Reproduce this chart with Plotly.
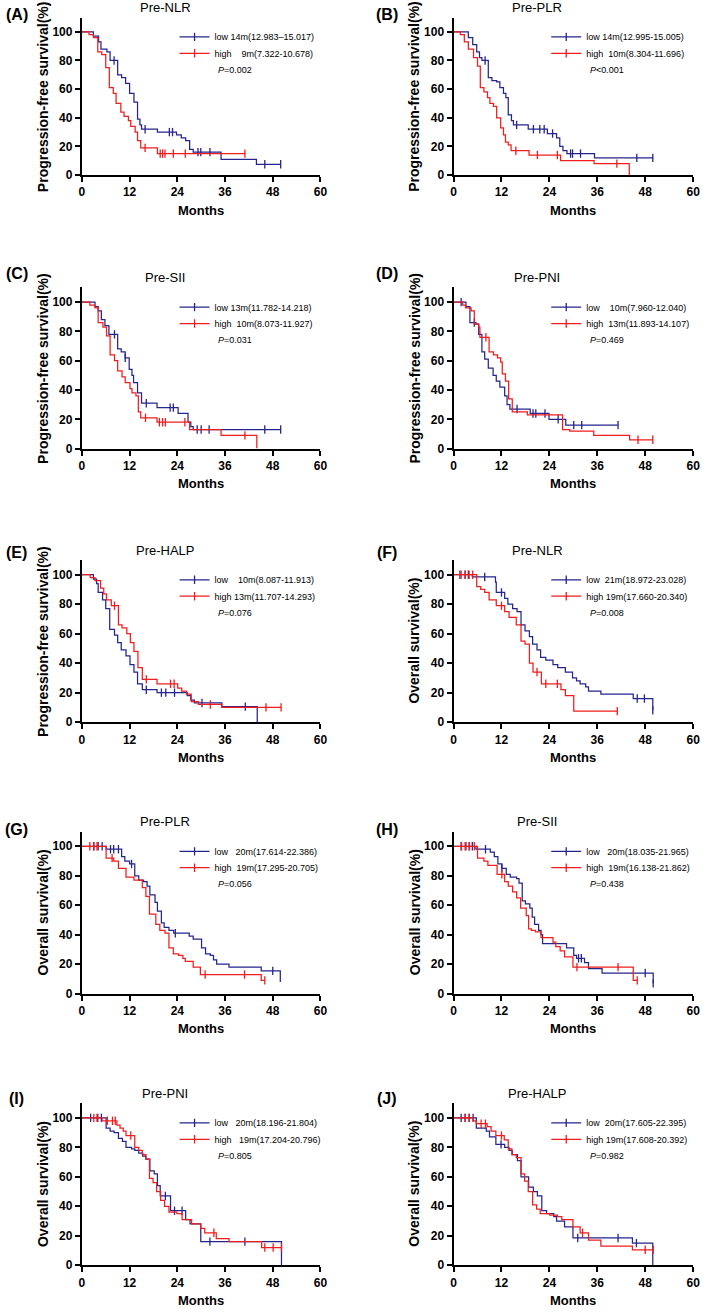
import plotly.graph_objects as go

W, H = 709, 1314
FONT = "Liberation Sans, Arial, sans-serif"
BLUE = "#25258E"
RED = "#F21C1C"

letters = ["(A)", "(B)", "(C)", "(D)", "(E)", "(F)", "(G)", "(H)", "(I)", "(J)"]
titles = ["Pre-NLR", "Pre-PLR", "Pre-SII", "Pre-PNI", "Pre-HALP",
          "Pre-NLR", "Pre-PLR", "Pre-SII", "Pre-PNI", "Pre-HALP"]
y_titles = ["Progression-free survival(%)"] * 5 + ["Overall survival(%)"] * 5
x_title = "Months"
NB = "\u00a0"
low_labels = [
    "low 14m(12.983–15.017)", "low 14m(12.995-15.005)", "low 13m(11.782-14.218)",
    "low" + NB * 4 + "10m(7.960-12.040)", "low" + NB * 4 + "10m(8.087-11.913)",
    "low" + NB * 2 + "21m(18.972-23.028)", "low" + NB * 3 + "20m(17.614-22.386)",
    "low" + NB * 3 + "20m(18.035-21.965)", "low" + NB * 3 + "20m(18.196-21.804)",
    "low" + NB * 2 + "20m(17.605-22.395)"]
high_labels = [
    "high" + NB * 4 + "9m(7.322-10.678)", "high" + NB * 2 + "10m(8.304-11.696)",
    "high" + NB * 2 + "10m(8.073-11.927)", "high" + NB * 2 + "13m(11.893-14.107)",
    "high 13m(11.707-14.293)", "high 19m(17.660-20.340)",
    "high" + NB * 2 + "19m(17.295-20.705)", "high" + NB * 2 + "19m(16.138-21.862)",
    "high" + NB * 3 + "19m(17.204-20.796)", "high 19m(17.608-20.392)"]
p_labels = ["=0.002", "<0.001", "=0.031", "=0.469", "=0.076",
            "=0.008", "=0.056", "=0.438", "=0.805", "=0.982"]
x_ticks = [0, 12, 24, 36, 48, 60]
y_ticks = [0, 20, 40, 60, 80, 100]

# ---- Kaplan-Meier step data (drop times, survival after drop, censor times, end) ----
A_low_t = [2.9, 4.2, 4.8, 6.3, 7.1, 9.0, 10.0, 11.0, 12.0, 13.1, 14.0, 14.6, 15.0, 19.0, 23.8, 25.0, 26.1, 27.1, 28.0, 35.0, 43.9]
A_low_s = [97, 93, 88, 86, 80, 70, 68, 64, 57, 51, 39, 35, 32, 30, 28, 26, 24, 18, 16, 11, 7.5]
A_low_c = [8.1, 15.9, 22.0, 22.8, 29.2, 29.9, 32.2, 46.0, 50.0]
A_low_end = 50
A_high_t = [1.8, 2.9, 4.0, 5.0, 6.0, 6.9, 7.9, 8.6, 9.8, 10.6, 11.7, 12.3, 13.4, 14.0, 14.8, 19.0]
A_high_s = [98, 96, 86, 84, 75, 61, 57, 50, 44, 41, 38, 34, 30, 24, 19, 15]
A_high_c = [15.9, 19.7, 20.3, 20.9, 23.0, 26.0, 41.0]
A_high_end = 41

B_low_t = [3.7, 4.8, 5.8, 6.5, 7.1, 8.7, 9.6, 10.8, 11.6, 12.5, 13.1, 13.7, 14.5, 15.0, 18.7, 23.5, 25.8, 26.6, 27.4, 28.4, 35.3]
B_low_s = [96, 91, 86, 82, 80, 68, 66, 65, 61, 57, 54, 42, 38, 35, 32, 29, 26, 20, 17, 15, 12]
B_low_c = [7.9, 15.8, 20.0, 21.6, 22.7, 24.8, 29.3, 29.8, 31.8, 45.9, 49.9]
B_low_end = 50
B_high_t = [1.7, 2.7, 3.7, 5.0, 6.0, 6.7, 7.6, 8.5, 9.1, 10.0, 10.8, 11.8, 12.5, 13.0, 13.7, 14.4, 18.9, 26.8, 35.2, 44.0]
B_high_s = [98, 93, 88, 82, 76, 61, 58, 54, 50, 48, 40, 33, 28, 23, 21, 17, 14, 10, 8, 0]
B_high_c = [15.6, 21.0, 26.0, 40.9]
B_high_end = 44

C_low_t = [3.3, 4.1, 4.9, 5.8, 6.8, 9.0, 9.9, 10.9, 11.9, 12.6, 13.0, 14.0, 15.0, 18.9, 24.2, 26.7, 27.4, 28.0]
C_low_s = [97, 94, 88, 84, 78, 68, 66, 62, 54, 50, 45, 38, 31, 28, 24, 18, 15, 13]
C_low_c = [8.2, 10.9, 16.2, 22.2, 23.0, 29.0, 30.0, 32.0, 46.0, 50.0]
C_low_end = 50
C_high_t = [2.0, 3.3, 4.1, 5.3, 6.2, 7.1, 8.2, 9.0, 10.1, 10.9, 12.1, 12.6, 13.6, 14.2, 14.8, 18.9, 27.1, 35.0, 44.0]
C_high_s = [98, 96, 86, 83, 77, 64, 60, 53, 49, 45, 41, 38, 36, 25, 21, 18, 13, 9, 0]
C_high_c = [16.0, 19.5, 20.3, 21.0, 25.9, 41.0]
C_high_end = 44

D_low_t = [3.1, 4.1, 5.6, 6.3, 7.1, 7.8, 8.7, 9.9, 10.7, 11.6, 12.8, 13.4, 14.1, 19.2, 23.9, 28.1]
D_low_s = [97, 86, 85, 78, 66, 61, 55, 50, 46, 42, 36, 30, 27, 24, 20, 16]
D_low_c = [1.9, 5.2, 15.9, 19.9, 20.6, 22.9, 26.2, 30.1, 32.1, 41.2]
D_low_end = 41.2
D_high_t = [2.3, 3.0, 4.4, 5.2, 6.3, 6.6, 8.9, 10.0, 11.0, 11.8, 12.2, 13.0, 13.8, 14.7, 18.5, 27.3, 29.1, 35.1, 44.1]
D_high_s = [98, 96, 94, 85, 83, 76, 66, 64, 62, 59, 51, 46, 34, 25, 23, 13, 12, 9, 6]
D_high_c = [8.1, 46.2, 49.9]
D_high_end = 50

E_low_t = [2.9, 3.7, 4.1, 5.2, 6.0, 7.0, 8.2, 9.0, 9.9, 11.1, 12.1, 13.1, 14.0, 15.2, 18.9, 26.5, 27.4, 28.3, 35.2, 44.1]
E_low_s = [97, 94, 88, 83, 77, 63, 59, 54, 49, 45, 39, 34, 26, 22, 20, 18, 15, 13, 10.5, 0]
E_low_c = [16.2, 20.0, 21.1, 23.3, 30.2, 41.1]
E_low_end = 44.1
E_high_t = [2.1, 3.3, 4.7, 5.5, 6.2, 7.4, 9.2, 10.1, 11.3, 12.2, 13.1, 14.1, 15.2, 18.9, 24.1, 25.1, 26.3, 27.5, 29.3, 35.2]
E_high_s = [98, 96, 91, 87, 83, 79, 66, 64, 60, 54, 48, 37, 29, 26, 23, 21, 19, 14, 12, 10]
E_high_c = [8.2, 16.2, 22.3, 23.2, 32.3, 46.3, 50.1]
E_high_end = 50.1

F_low_t = [4.7, 10.5, 10.7, 12.8, 13.6, 14.8, 15.9, 16.9, 17.9, 19.0, 19.8, 20.9, 21.8, 23.1, 24.9, 26.1, 28.0, 29.8, 30.8, 31.7, 33.1, 33.8, 36.9, 45.0, 49.9]
F_low_s = [98.5, 95, 88, 84, 80, 77, 75, 66, 62, 58, 53, 49, 44, 42, 39, 37, 34, 30, 28, 26, 24, 21, 19, 16, 8]
F_low_c = [1.6, 2.9, 3.7, 7.8, 12.0, 46.0, 47.8, 49.9]
F_low_end = 49.9
F_high_t = [5.8, 6.8, 7.8, 8.9, 10.7, 12.8, 13.9, 15.7, 16.9, 17.9, 19.0, 19.9, 22.0, 26.9, 28.0, 30.1]
F_high_s = [92, 90, 88, 83, 79, 75, 71, 66, 55, 53, 40, 34, 26, 22, 18, 7.5]
F_high_c = [1.9, 2.9, 3.9, 4.8, 12.0, 20.9, 23.1, 26.0, 41.0]
F_high_end = 41

G_low_t = [6.1, 10.0, 10.8, 12.0, 13.3, 14.3, 15.5, 16.4, 17.1, 18.4, 19.0, 20.0, 20.7, 21.9, 23.1, 27.0, 28.0, 30.1, 31.1, 32.3, 33.1, 33.9, 37.0, 45.1, 49.9]
G_low_s = [98, 93, 90, 88, 80, 77, 76, 73, 67, 62, 56, 48, 45, 43, 41, 39, 37, 31, 27, 26, 23, 20, 18, 15.5, 8]
G_low_c = [3.0, 4.1, 5.1, 7.2, 8.0, 9.2, 12.5, 23.5, 48.0]
G_low_end = 49.9
G_high_t = [6.1, 8.0, 9.2, 11.1, 13.1, 15.2, 16.1, 17.0, 18.6, 19.6, 20.9, 21.9, 23.0, 24.3, 25.4, 26.0, 28.0, 29.8, 45.1]
G_high_s = [92, 90, 85, 79, 77, 72, 66, 54, 47, 43, 41, 31, 27, 26, 24, 22, 18, 13, 9]
G_high_c = [2.0, 3.0, 3.8, 7.6, 31.0, 40.9, 46.0]
G_high_end = 46

H_low_t = [5.6, 9.2, 10.2, 11.1, 12.1, 13.2, 14.2, 15.8, 16.4, 17.2, 18.0, 19.1, 19.7, 20.3, 21.3, 21.9, 22.3, 28.3, 30.1, 30.8, 32.8, 33.8, 37.2, 50.0]
H_low_s = [98, 96, 93, 88, 85, 81, 79, 78, 75, 63, 61, 58, 52, 47, 43, 40, 34, 31, 26, 24, 21, 17, 14, 7]
H_low_c = [1.9, 3.1, 3.9, 4.7, 8.0, 12.1, 31.3, 32.0, 48.0, 50.0]
H_low_end = 50
H_high_t = [6.0, 7.6, 8.6, 10.9, 12.8, 13.7, 14.8, 15.8, 16.8, 18.2, 18.8, 19.5, 20.5, 21.9, 24.9, 25.6, 26.7, 27.8, 29.9, 45.0]
H_high_s = [92, 90, 87, 81, 76, 73, 69, 65, 58, 53, 44, 43, 42, 38, 35, 32, 29, 25, 18, 9]
H_high_c = [2.0, 2.9, 4.0, 5.2, 12.1, 30.9, 41.2, 46.0]
H_high_end = 46

I_low_t = [6.1, 7.1, 8.1, 9.2, 10.2, 11.1, 12.5, 13.3, 14.3, 15.3, 16.1, 17.1, 18.2, 19.0, 19.7, 22.3, 26.1, 27.2, 29.9, 50.2]
I_low_s = [93, 91, 90, 86, 84, 80, 79, 78, 76, 74, 72, 64, 62, 54, 47, 37, 31, 28, 16, 0]
I_low_c = [2.2, 4.0, 4.9, 21.0, 23.3, 25.2, 32.2, 41.0]
I_low_end = 50.2
I_high_t = [5.1, 8.8, 9.6, 10.4, 11.1, 13.3, 14.3, 15.2, 16.1, 17.0, 17.9, 18.8, 19.8, 20.8, 21.9, 23.9, 25.2, 27.6, 29.9, 30.9, 33.8, 37.0, 45.2]
I_high_s = [98, 95, 93, 91, 88, 80, 78, 75, 72, 59, 56, 50, 44, 40, 36, 35, 31, 28, 25, 22, 18, 16, 12]
I_high_c = [3.0, 3.8, 6.4, 7.7, 8.4, 12.3, 33.2, 46.0, 48.1, 50.2]
I_high_end = 50.2

J_low_t = [5.7, 8.2, 9.0, 10.6, 12.8, 13.9, 14.7, 16.0, 16.9, 18.8, 20.0, 21.0, 22.1, 23.3, 25.1, 25.8, 27.8, 29.9, 44.8, 49.9]
J_low_s = [93, 91, 87, 82, 80, 78, 75, 71, 60, 53, 50, 47, 37, 35, 33, 30, 26, 18.5, 15, 0]
J_low_c = [1.9, 2.9, 3.9, 4.9, 11.9, 31.1, 41.2, 45.8]
J_low_end = 49.9
J_high_t = [4.9, 5.7, 8.4, 9.4, 10.6, 12.7, 13.7, 14.6, 15.7, 16.9, 17.8, 18.7, 19.8, 20.8, 21.7, 24.1, 26.0, 27.1, 29.9, 31.7, 33.8, 36.9, 44.8]
J_high_s = [98, 96, 94, 91, 88, 85, 79, 75, 73, 62, 57, 50, 41, 38, 35, 34, 33, 31, 26, 22, 17, 13, 10.5]
J_high_c = [2.9, 3.9, 6.9, 8.0, 12.0, 32.3, 48.0, 50.0]
J_high_end = 50.0

panels = [
    ((A_low_t, A_low_s, A_low_c, A_low_end), (A_high_t, A_high_s, A_high_c, A_high_end)),
    ((B_low_t, B_low_s, B_low_c, B_low_end), (B_high_t, B_high_s, B_high_c, B_high_end)),
    ((C_low_t, C_low_s, C_low_c, C_low_end), (C_high_t, C_high_s, C_high_c, C_high_end)),
    ((D_low_t, D_low_s, D_low_c, D_low_end), (D_high_t, D_high_s, D_high_c, D_high_end)),
    ((E_low_t, E_low_s, E_low_c, E_low_end), (E_high_t, E_high_s, E_high_c, E_high_end)),
    ((F_low_t, F_low_s, F_low_c, F_low_end), (F_high_t, F_high_s, F_high_c, F_high_end)),
    ((G_low_t, G_low_s, G_low_c, G_low_end), (G_high_t, G_high_s, G_high_c, G_high_end)),
    ((H_low_t, H_low_s, H_low_c, H_low_end), (H_high_t, H_high_s, H_high_c, H_high_end)),
    ((I_low_t, I_low_s, I_low_c, I_low_end), (I_high_t, I_high_s, I_high_c, I_high_end)),
    ((J_low_t, J_low_s, J_low_c, J_low_end), (J_high_t, J_high_s, J_high_c, J_high_end)),
]

# ---- layout geometry (pixels) ----
COL_X = [(80, 322), (457, 700)]
ROW_Y = [(17.6, 176), (289, 451), (563, 726), (836, 999), (1109, 1272)]
LETTER_X = [14, 389]
LETTER_Y = [15, 275, 555, 834, 1104]
LEG_ROW_OFFSETS = [5, 21.5]   # item centres below the 100% gridline (px)


def px_x(p):
    return p / W


def px_y(p):
    return 1 - p / H


def surv_at(t, s, x):
    v = 100
    for ti, si in zip(t, s):
        if ti <= x:
            v = si
    return v


fig = go.Figure()
layout = dict(
    width=W, height=H, margin=dict(l=0, r=0, t=0, b=0),
    plot_bgcolor="white", paper_bgcolor="white",
    font=dict(family=FONT, color="black"),
    showlegend=True, annotations=[],
)

for i, (low, high) in enumerate(panels):
    r, c = divmod(i, 2)
    sfx = "" if i == 0 else str(i + 1)
    xa, ya = "x" + sfx, "y" + sfx
    left, right = COL_X[c]
    top, bottom = ROW_Y[r]
    y100 = bottom - (bottom - top) * 100 / 110

    groups = ((low, BLUE, low_labels[i]), (high, RED, high_labels[i]))
    for k, ((t, s, cens, end), color, name) in enumerate(groups):
        lnum = 2 * i + k + 1
        lg = "legend" if lnum == 1 else "legend" + str(lnum)
        xs = [0] + list(t) + [end]
        ys = [100] + list(s) + [s[-1]]
        fig.add_trace(go.Scatter(x=xs, y=ys, mode="lines", line=dict(color=color, width=1.25, shape="hv"),
                                 xaxis=xa, yaxis=ya, showlegend=False, hoverinfo="skip"))
        fig.add_trace(go.Scatter(x=cens, y=[surv_at(t, s, cx) for cx in cens], mode="markers",
                                 marker=dict(symbol="line-ns", size=6, line=dict(color=color, width=1.3)),
                                 xaxis=xa, yaxis=ya, showlegend=False, hoverinfo="skip", cliponaxis=False))
        fig.add_trace(go.Scatter(x=[None], y=[None], mode="lines+markers", name=name,
                                 line=dict(color=color, width=1.25),
                                 marker=dict(symbol="line-ns", size=6, line=dict(color=color, width=1.3)),
                                 xaxis=xa, yaxis=ya, legend=lg))
        layout[lg] = dict(x=px_x(left + 94), y=px_y(y100 + LEG_ROW_OFFSETS[k] - 14.5),
                          xanchor="left", yanchor="top",
                          bgcolor="rgba(0,0,0,0)", borderwidth=0, itemsizing="trace",
                          font=dict(family=FONT, size=9, color="black"))

    axis_common = dict(showline=True, linecolor="black", linewidth=2, ticks="outside", ticklen=5,
                       tickwidth=2, tickcolor="black", showgrid=False, zeroline=False,
                       tickfont=dict(family=FONT, size=12, color="black", weight="bold"))
    layout["xaxis" + sfx] = dict(domain=[px_x(left), px_x(right)], range=[0, 60], tickvals=x_ticks,
                                 anchor=ya, **axis_common)
    layout["yaxis" + sfx] = dict(domain=[px_y(bottom), px_y(top)], range=[0, 110], tickvals=y_ticks,
                                 anchor=xa, **axis_common)

    ann = layout["annotations"]
    ann.append(dict(text=titles[i], xref=xa + " domain", yref=ya + " domain", x=0.35, y=1,
                    yshift=10, xanchor="center", yanchor="middle", showarrow=False,
                    font=dict(family=FONT, size=13, color="black")))
    ann.append(dict(text="<i>P</i>" + p_labels[i], xref=xa + " domain", yref=ya, x=0, y=100,
                    xshift=134, yshift=-38, xanchor="left", yanchor="middle", showarrow=False,
                    font=dict(family=FONT, size=9, color="black")))
    ann.append(dict(text=y_titles[i], xref=xa + " domain", yref=ya + " domain", x=0, y=0.5,
                    xshift=-39, textangle=-90, xanchor="center", yanchor="middle", showarrow=False,
                    font=dict(family=FONT, size=14, color="black", weight="bold")))
    ann.append(dict(text=x_title, xref=xa + " domain", yref=ya + " domain", x=0.5, y=0,
                    yshift=-35, xanchor="center", yanchor="middle", showarrow=False,
                    font=dict(family=FONT, size=13, color="black", weight="bold")))
    ann.append(dict(text=letters[i], xref="paper", yref="paper", x=px_x(LETTER_X[c]), y=px_y(LETTER_Y[r]),
                    xanchor="center", yanchor="middle", showarrow=False,
                    font=dict(family=FONT, size=16, color="black", weight="bold")))

fig.update_layout(**layout)
fig.write_html("out.html", config={"displayModeBar": False},
               post_script="document.body.style.margin='0px';document.body.style.overflow='hidden';")
